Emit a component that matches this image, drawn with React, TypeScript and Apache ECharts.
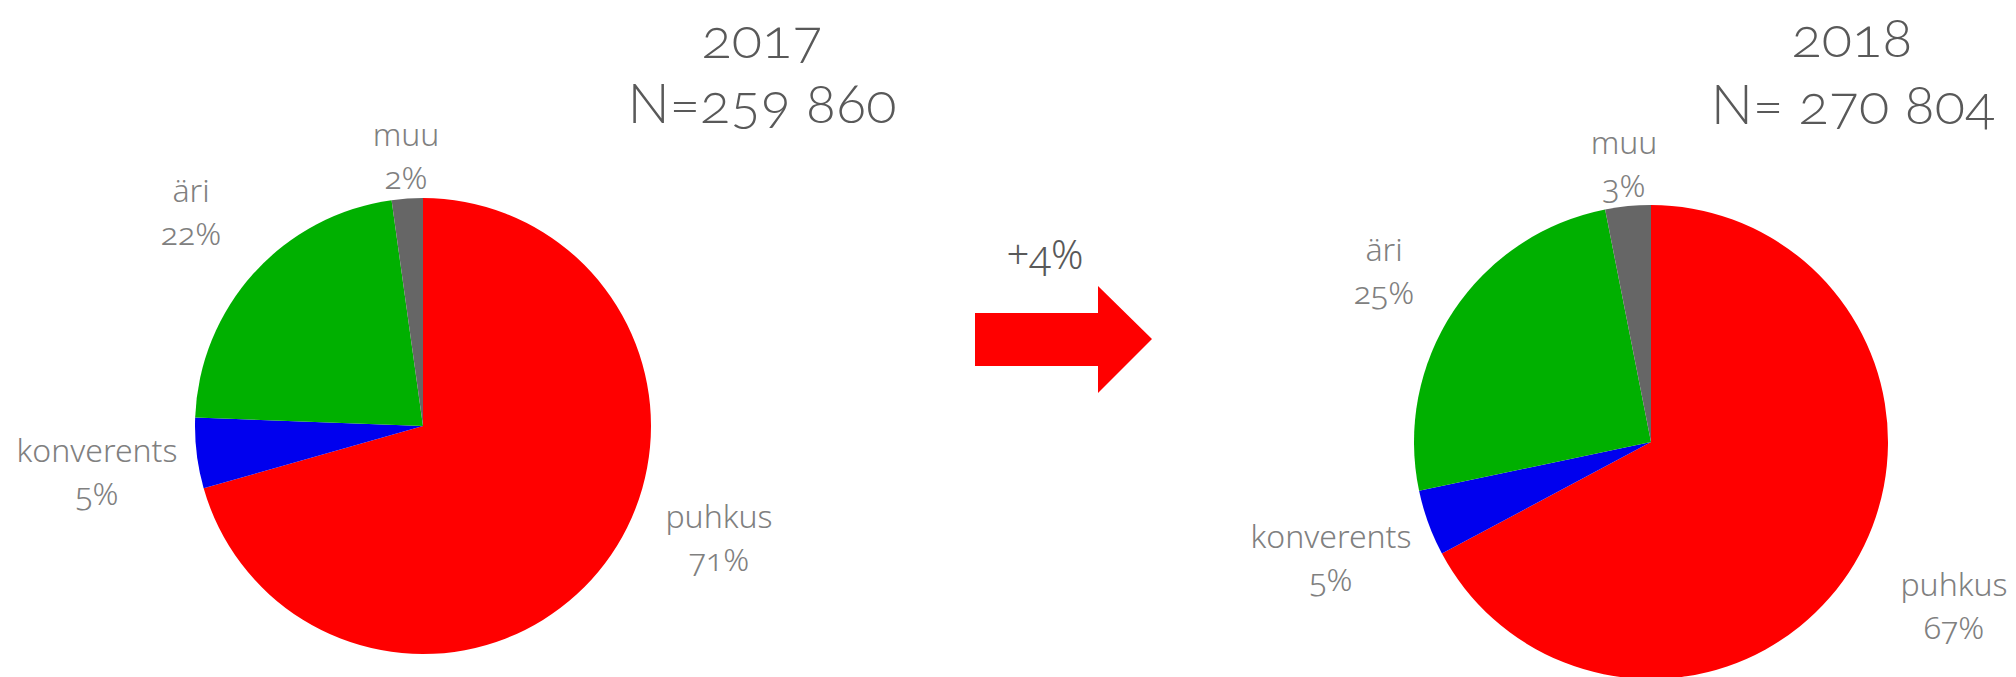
import React, { useEffect, useRef } from "react";
import * as echarts from "echarts";

const categories = ["puhkus", "konverents", "äri", "muu"];
const values2017 = [70.6, 5.0, 22.2, 2.2];
const values2018 = [67.2, 4.5, 25.2, 3.1];
const titles2017 = ["2017", "N=259 860"];
const titles2018 = ["2018", "N= 270 804"];
const changeLabel = "+4%";

const sliceColors = ["#ff0000", "#0000ee", "#00b000", "#666666"];
const TITLE_FONT = "Lato, 'Noto Sans', sans-serif";
const LABEL_FONT = "'Noto Sans', 'Open Sans', sans-serif";

// label block centres (layout only)
const labelPos2017 = [
  [719, 537],
  [97, 471],
  [191, 211],
  [406, 155],
];
const labelPos2018 = [
  [1954, 605],
  [1331, 557],
  [1384, 270],
  [1624, 163],
];

export default function App() {
  const ref = useRef<HTMLDivElement>(null);
  useEffect(() => {
    const styleEl = document.createElement("style");
    styleEl.textContent =
      '#chartbox text, #chartbox tspan { font-feature-settings: "onum" 1 !important; font-variant-numeric: oldstyle-nums !important; }';
    document.head.appendChild(styleEl);
    const chart = echarts.init(ref.current!, undefined, { renderer: "svg" });
    const mkSeries = (name: string, vals: number[], center: number[], r: number, pos: number[][]) => ({
      type: "pie",
      name,
      center,
      radius: r,
      startAngle: 90,
      clockwise: true,
      percentPrecision: 0,
      avoidLabelOverlap: false,
      silent: true,
      itemStyle: { borderWidth: 0 },
      label: {
        show: true,
        position: "outside",
        formatter: "{b}\n{d}%",
        fontFamily: LABEL_FONT,
        fontSize: 32,
        fontWeight: 300,
        lineHeight: 43,
        color: "#808080",
        align: "center",
      },
      labelLine: { show: false },
      labelLayout: (p: any) => ({
        x: pos[p.dataIndex][0],
        y: pos[p.dataIndex][1],
        align: "center",
        verticalAlign: "middle",
      }),
      emphasis: { disabled: true },
      data: categories.map((c, i) => ({
        name: c,
        value: vals[i],
        itemStyle: { color: sliceColors[i] },
      })),
    });
    const txt = (text: string, x: number, y: number, size: number, family: string) => ({
      type: "text",
      x,
      y,
      style: {
        text,
        fill: "#595959",
        font: `300 ${size}px ${family}`,
        lineHeight: size,
        textAlign: "center",
        textVerticalAlign: "middle",
      },
    });
    chart.setOption({
      animation: false,
      backgroundColor: "#ffffff",
      series: [
        mkSeries("2017", values2017, [423, 426], 228, labelPos2017),
        mkSeries("2018", values2018, [1651, 442], 237, labelPos2018),
      ],
      graphic: [
        txt(titles2017[0], 762, 36, 56, TITLE_FONT),
        txt(titles2017[1], 762, 101, 56, TITLE_FONT),
        txt(titles2018[0], 1852, 35, 56, TITLE_FONT),
        txt(titles2018[1], 1853, 102, 56, TITLE_FONT),
        txt(changeLabel, 1045, 253, 40, LABEL_FONT),
        {
          type: "polygon",
          shape: {
            points: [
              [975, 313],
              [1098, 313],
              [1098, 286],
              [1152, 339],
              [1098, 393],
              [1098, 366],
              [975, 366],
            ],
          },
          style: { fill: "#ff0000" },
        },
      ],
    });
    return () => {
      chart.dispose();
      styleEl.remove();
    };
  }, []);
  return (
    <div
      id="chartbox"
      ref={ref}
      style={{ position: "absolute", left: 0, top: 0, width: 2016, height: 677 }}
    />
  );
}
